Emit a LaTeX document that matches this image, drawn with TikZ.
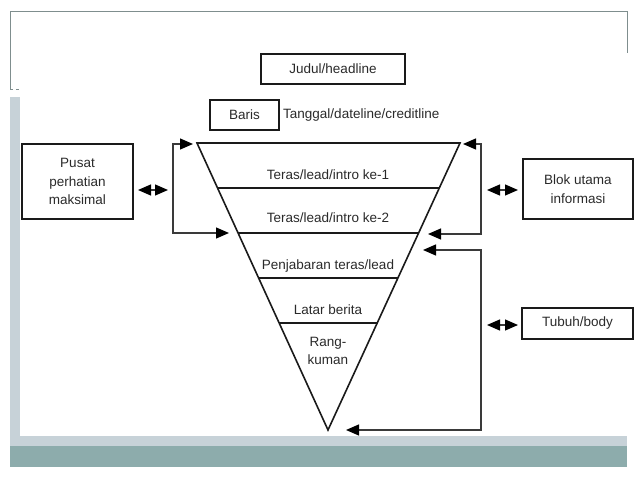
\documentclass[tikz,border=0pt]{standalone}
\usepackage{fontspec}
\setmainfont{Liberation Sans}
\usetikzlibrary{arrows.meta,calc}
\definecolor{framegray}{HTML}{7F8E8E}
\definecolor{barblue}{HTML}{C7D2D8}
\definecolor{tealbar}{HTML}{8DACAC}
\definecolor{ink}{HTML}{1A1A1A}
\definecolor{conncol}{HTML}{3A3A3A}
\definecolor{textcol}{HTML}{2A2A2A}
\begin{document}
\begin{tikzpicture}[x=1pt,y=-1pt,
  font=\fontsize{13.5}{18.5}\selectfont,
  every node/.style={text=textcol},
  labelbox/.style={draw=ink, line width=1.1pt, inner sep=0pt, align=center},
  headbox/.style={draw=ink, line width=1.8pt, inner sep=0pt, align=center},
  tri/.style={draw=ink, line width=1.6pt},
  conn/.style={draw=conncol, line width=1.2pt},
  twotip/.style={{Triangle[length=13pt,width=11pt,color=black]}-{Triangle[length=13pt,width=11pt,color=black]}},
  lbl/.style={inner sep=0pt, align=center}]
\useasboundingbox (0,0) rectangle (638,479);
% slide background
\fill[tealbar] (10,446) rectangle (627,467);
\fill[barblue] (10,436) rectangle (627,446);
\fill[barblue] (10,97) rectangle (20,436);
\draw[framegray, line width=1pt] (10,89) -- (10,11) -- (627,11) -- (627,53);
\draw[framegray, line width=0.6pt, dashed] (10,89) -- (21,89);

% header boxes
\node[headbox, minimum width=144pt, minimum height=30pt] (judul) at (333,69) {Judul/headline};
\node[headbox, minimum width=69pt, minimum height=30pt] (baris) at (244.5,115) {Baris};
\node[lbl, anchor=west] (tanggal) at (283,115) {Tanggal/dateline/creditline};

% side boxes
\node[labelbox, minimum width=111pt, minimum height=75pt] (pusat) at (77.5,181.5) {Pusat\\perhatian\\maksimal};
\node[labelbox, minimum width=110pt, minimum height=60pt] (blok) at (578,189) {Blok utama\\informasi};
\node[labelbox, minimum width=111pt, minimum height=31pt] (tubuh) at (577.5,323.5) {Tubuh/body};

% inverted pyramid
\coordinate (A) at (197,143);
\coordinate (B) at (460,143);
\coordinate (C) at (328,430);
\draw[tri, line join=miter] (A) -- (B) -- (C) -- cycle;
\foreach \t in {0.1568,0.3136,0.4704,0.6272}
  \draw[tri] ($(A)!\t!(C)$) -- ($(B)!\t!(C)$);
\node[lbl] (l1) at (328,175) {Teras/lead/intro ke-1};
\node[lbl] (l2) at (328,218) {Teras/lead/intro ke-2};
\node[lbl] (l3) at (328,266) {Penjabaran teras/lead};
\node[lbl] (l4) at (328,310) {Latar berita};
\node[lbl] (l5) at (328,351) {Rang-\\kuman};

% left bracket
\coordinate (ltTip) at (193,144);
\coordinate (lt) at (173,144);
\coordinate (lb) at (173,233);
\coordinate (lbTip) at (229,233);
\draw[conn, twotip] (ltTip) -- (lt) -- (lb) -- (lbTip);

% right brackets
\coordinate (rtTip) at (463,144);
\coordinate (rt) at (481,144);
\coordinate (rb) at (481,234);
\coordinate (rbTip) at (428,234);
\draw[conn, twotip] (rtTip) -- (rt) -- (rb) -- (rbTip);
\coordinate (r2Tip) at (423,250);
\coordinate (r2) at (481,250);
\coordinate (r3) at (481,430);
\coordinate (r3Tip) at (346,430);
\draw[conn, twotip] (r2Tip) -- (r2) -- (r3) -- (r3Tip);

% double arrows between boxes and brackets
\coordinate (pa1) at (138,190);
\coordinate (pa2) at (168,190);
\draw[conn, twotip] (pa1) -- (pa2);
\coordinate (ba1) at (487,190);
\coordinate (ba2) at (518,190);
\draw[conn, twotip] (ba1) -- (ba2);
\coordinate (ta1) at (487,325);
\coordinate (ta2) at (518,325);
\draw[conn, twotip] (ta1) -- (ta2);
\end{tikzpicture}
\end{document}
